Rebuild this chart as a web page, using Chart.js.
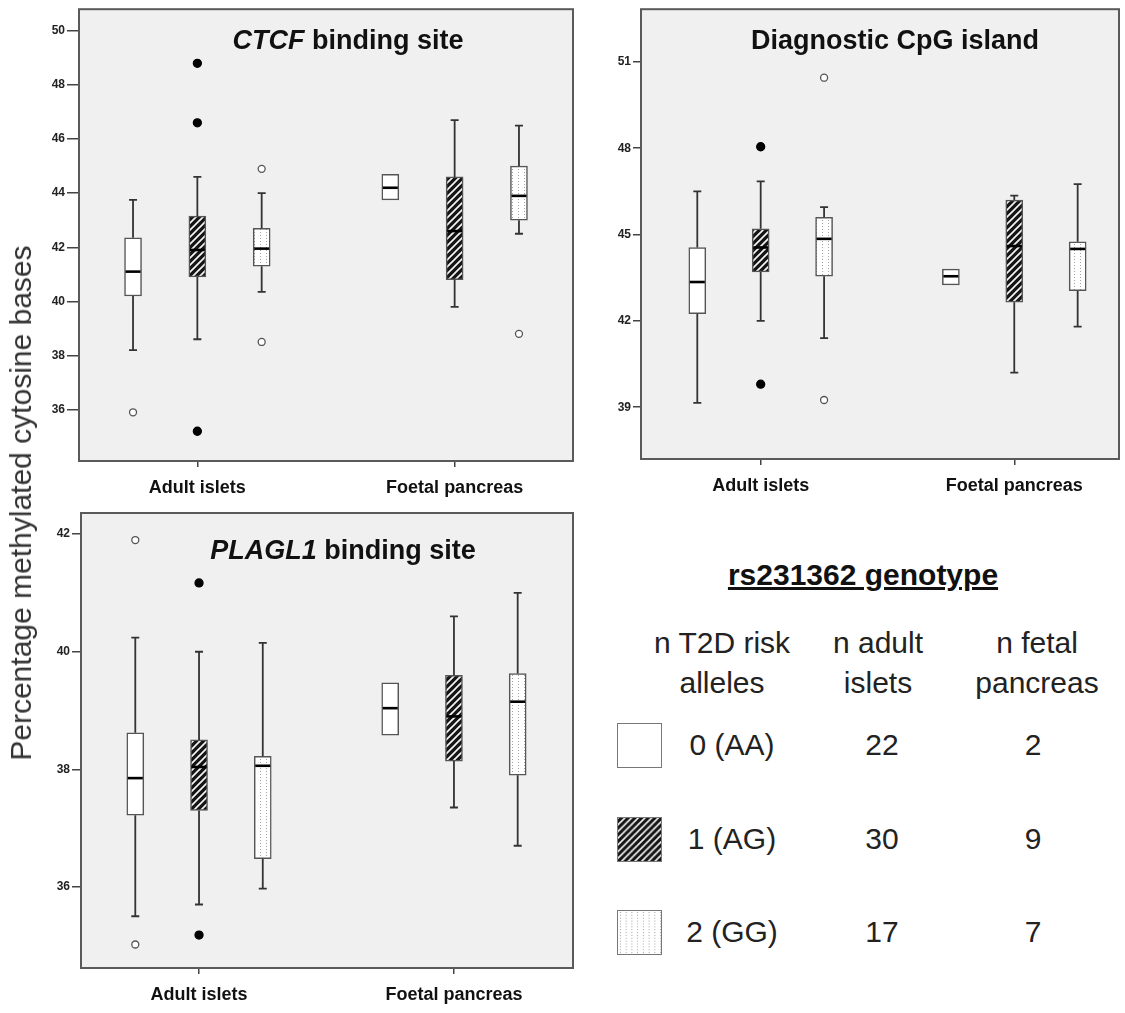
<!DOCTYPE html>
<html>
<head>
<meta charset="utf-8">
<script src="https://cdn.jsdelivr.net/npm/chart.js@4.4.0/dist/chart.umd.min.js"></script>
<style>
  body { margin: 0; background: #fff; font-family: 'Liberation Sans', Arial, sans-serif; }
  #page { position: relative; width: 1125px; height: 1013px; overflow: hidden; }
  .panel { position: absolute; }
  #p1 { left: 0; top: 0; width: 580px; height: 500px; }
  #p2 { left: 580px; top: 0; width: 545px; height: 500px; }
  #p3 { left: 0; top: 500px; width: 580px; height: 513px; }
  #ytitle { position: absolute; left: 21px; top: 503px; transform: translate(-50%, -50%) rotate(-90deg);
            white-space: nowrap; font-size: 30px; color: #333; }
  .lg { position: absolute; transform: translate(-50%, -50%); white-space: nowrap; font-size: 30px; color: #222; line-height: 1; }
  .lgtitle { font-weight: bold; text-decoration: underline; color: #111; }
  .sw { position: absolute; width: 45px; height: 45px; box-sizing: border-box; border: 1.5px solid #777; }
</style>
</head>
<body>
<div id="page">
  <div class="panel" id="p1"><canvas id="c1"></canvas></div>
  <div class="panel" id="p2"><canvas id="c2"></canvas></div>
  <div class="panel" id="p3"><canvas id="c3"></canvas></div>
  <div id="ytitle">Percentage methylated cytosine bases</div>
  <div id="legend"></div>
</div>
<script>
// ---- data ----
const categories = ["Adult islets", "Foetal pancreas"];
const genotypes = ["0 (AA)", "1 (AG)", "2 (GG)"];
const nAdult = [22, 30, 17];
const nFetal = [2, 9, 7];

// order: adult 0,1,2 then foetal 0,1,2
const ctcfLow     = [38.2, 38.6, 40.35, null, 39.8, 42.5];
const ctcfQ1      = [40.2, 40.9, 41.3, 43.75, 40.8, 43.0];
const ctcfMedian  = [41.1, 41.9, 41.95, 44.2, 42.6, 43.9];
const ctcfQ3      = [42.35, 43.15, 42.7, 44.7, 44.6, 45.0];
const ctcfHigh    = [43.75, 44.6, 44.0, null, 46.7, 46.5];
const ctcfOutliers = [[35.9], [48.8, 46.6, 35.2], [44.9, 38.5], [], [], [38.8]];
const ctcfTicks = [36, 38, 40, 42, 44, 46, 48, 50];

const cpgLow     = [39.15, 42.0, 41.4, null, 40.2, 41.8];
const cpgQ1      = [42.25, 43.7, 43.55, 43.25, 42.65, 43.05];
const cpgMedian  = [43.35, 44.55, 44.85, 43.55, 44.6, 44.5];
const cpgQ3      = [44.55, 45.2, 45.6, 43.8, 46.2, 44.75];
const cpgHigh    = [46.5, 46.85, 45.95, null, 46.35, 46.75];
const cpgOutliers = [[], [48.05, 39.8], [50.45, 39.25], [], [], []];
const cpgTicks = [39, 42, 45, 48, 51];

const plaglLow     = [35.5, 35.7, 35.97, null, 37.35, 36.7];
const plaglQ1      = [37.22, 37.3, 36.48, 38.58, 38.14, 37.9];
const plaglMedian  = [37.85, 38.04, 38.06, 39.04, 38.9, 39.15];
const plaglQ3      = [38.62, 38.5, 38.22, 39.47, 39.6, 39.63];
const plaglHigh    = [40.24, 40.0, 40.15, null, 40.6, 41.0];
const plaglOutliers = [[41.9, 35.02], [41.17, 35.18], [], [], [], []];
const plaglTicks = [36, 38, 40, 42];

// ---- styling helpers ----
const offsets = [-0.25, 0, 0.25];
Chart.defaults.font.family = "'Liberation Sans', Arial, sans-serif";

function makePattern(g) {
  if (g === 0) return '#ffffff';
  const c = document.createElement('canvas');
  const x = c.getContext('2d');
  if (g === 1) {
    c.width = c.height = 7;
    x.fillStyle = '#151515';
    x.fillRect(0, 0, 7, 7);
    x.strokeStyle = '#f4f4f4';
    x.lineWidth = 1.7;
    x.beginPath();
    x.moveTo(0, 7); x.lineTo(7, 0);
    x.moveTo(-1, 1); x.lineTo(1, -1);
    x.moveTo(6, 8); x.lineTo(8, 6);
    x.stroke();
  } else {
    c.width = 6; c.height = 3;
    x.fillStyle = '#ffffff';
    x.fillRect(0, 0, 6, 3);
    x.fillStyle = '#a0a0a0';
    x.fillRect(2, 1, 1, 1);
  }
  return x.createPattern(c, 'repeat');
}

const panelPlugin = {
  id: 'panel',
  beforeDraw(chart) {
    const a = chart.chartArea, ctx = chart.ctx;
    ctx.save();
    ctx.fillStyle = '#f0f0f0';
    ctx.fillRect(a.left, a.top, a.right - a.left, a.bottom - a.top);
    ctx.restore();
  },
  afterDatasetsDraw(chart) {
    const s = chart.config.options.plugins.panel;
    const ctx = chart.ctx, xs = chart.scales.x, ys = chart.scales.y;
    ctx.save();
    for (let i = 0; i < 6; i++) {
      const c = Math.floor(i / 3), g = i % 3;
      const px = xs.getPixelForValue(c + offsets[g]);
      const half = 8.5;
      ctx.strokeStyle = '#333';
      ctx.lineWidth = 1.8;
      ctx.beginPath();
      if (s.high[i] != null) {
        ctx.moveTo(px, ys.getPixelForValue(s.q3[i])); ctx.lineTo(px, ys.getPixelForValue(s.high[i]));
        ctx.moveTo(px - 4, ys.getPixelForValue(s.high[i])); ctx.lineTo(px + 4, ys.getPixelForValue(s.high[i]));
      }
      if (s.low[i] != null) {
        ctx.moveTo(px, ys.getPixelForValue(s.q1[i])); ctx.lineTo(px, ys.getPixelForValue(s.low[i]));
        ctx.moveTo(px - 4, ys.getPixelForValue(s.low[i])); ctx.lineTo(px + 4, ys.getPixelForValue(s.low[i]));
      }
      ctx.stroke();
      ctx.strokeStyle = '#000';
      ctx.lineWidth = 2.6;
      ctx.beginPath();
      const my = ys.getPixelForValue(s.median[i]);
      ctx.moveTo(px - half + 1, my); ctx.lineTo(px + half - 1, my);
      ctx.stroke();
    }
    ctx.restore();
  },
  afterDraw(chart) {
    const s = chart.config.options.plugins.panel;
    const a = chart.chartArea, ctx = chart.ctx;
    ctx.save();
    ctx.strokeStyle = '#5a5a5a';
    ctx.lineWidth = 2;
    ctx.strokeRect(a.left, a.top, a.right - a.left, a.bottom - a.top);
    // title: italic part + plain part
    ctx.fillStyle = '#111';
    ctx.textBaseline = 'middle';
    const f1 = 'italic bold 27px "Liberation Sans", Arial, sans-serif';
    const f2 = 'bold 27px "Liberation Sans", Arial, sans-serif';
    ctx.font = f1; const w1 = ctx.measureText(s.titleItalic).width;
    ctx.font = f2; const w2 = ctx.measureText(s.titlePlain).width;
    let x0 = s.titleX - (w1 + w2) / 2;
    ctx.textAlign = 'left';
    ctx.font = f1; ctx.fillText(s.titleItalic, x0, s.titleY);
    ctx.font = f2; ctx.fillText(s.titlePlain, x0 + w1, s.titleY);
    ctx.restore();
  }
};

function makePanel(id, d) {
  const datasets = [];
  for (let g = 0; g < 3; g++) {
    datasets.push({
      type: 'bar',
      data: [0, 1].map(c => ({ x: c + offsets[g], y: [d.q1[c * 3 + g], d.q3[c * 3 + g]] })),
      backgroundColor: makePattern(g),
      borderColor: '#555',
      borderWidth: 1.5,
      borderSkipped: false,
      barThickness: 17,
      grouped: false
    });
  }
  for (let g = 0; g < 3; g++) {
    const pts = [];
    [0, 1].forEach(c => d.outliers[c * 3 + g].forEach(v => pts.push({ x: c + offsets[g], y: v })));
    datasets.push({
      type: 'scatter',
      data: pts,
      pointRadius: g === 1 ? 4 : 3.5,
      pointBackgroundColor: g === 1 ? '#000' : '#fff',
      pointBorderColor: g === 1 ? '#000' : '#555',
      pointBorderWidth: 1.3,
      showLine: false
    });
  }

  new Chart(document.getElementById(id), {
    type: 'bar',
    data: { datasets },
    options: {
      responsive: true,
      maintainAspectRatio: false,
      animation: false,
      layout: { padding: d.padding },
      plugins: {
        legend: { display: false },
        tooltip: { enabled: false },
        panel: d
      },
      scales: {
        x: {
          type: 'linear',
          min: d.xMin, max: d.xMax,
          offset: false,
          afterBuildTicks: s => { s.ticks = [{ value: 0 }, { value: 1 }]; },
          afterFit: s => { s.height = d.xHeight; },
          grid: { offset: false, drawOnChartArea: false, drawTicks: true, tickLength: 6, color: '#444', lineWidth: 1.5 },
          border: { display: false },
          ticks: {
            callback: (v, i) => categories[i],
            font: { size: 18, weight: 'bold' }, color: '#111', padding: 10, maxRotation: 0
          }
        },
        y: {
          min: d.yMin, max: d.yMax,
          afterBuildTicks: s => { s.ticks = d.ticks.map(v => ({ value: v })); },
          afterFit: s => { s.width = d.yWidth; },
          grid: { drawOnChartArea: false, drawTicks: true, tickLength: d.tickLen, color: '#444', lineWidth: 1.5 },
          border: { display: false },
          ticks: { font: { size: 12, weight: 'bold' }, color: '#222', padding: 2 }
        }
      }
    },
    plugins: [panelPlugin]
  });
}

makePanel('c1', {
  low: ctcfLow, q1: ctcfQ1, median: ctcfMedian, q3: ctcfQ3, high: ctcfHigh, outliers: ctcfOutliers, ticks: ctcfTicks,
  yMin: 34.1, yMax: 50.8, xMin: -0.46, xMax: 1.46,
  padding: { top: 7, right: 7, left: 0, bottom: 0 }, xHeight: 39, yWidth: 79, tickLen: 12,
  titleItalic: 'CTCF', titlePlain: ' binding site', titleX: 348, titleY: 42
});
makePanel('c2', {
  low: cpgLow, q1: cpgQ1, median: cpgMedian, q3: cpgQ3, high: cpgHigh, outliers: cpgOutliers, ticks: cpgTicks,
  yMin: 37.2, yMax: 52.83, xMin: -0.472, xMax: 1.413,
  padding: { top: 7, right: 6, left: 0, bottom: 0 }, xHeight: 41, yWidth: 61, tickLen: 8,
  titleItalic: '', titlePlain: 'Diagnostic CpG island', titleX: 315, titleY: 42
});
makePanel('c3', {
  low: plaglLow, q1: plaglQ1, median: plaglMedian, q3: plaglQ3, high: plaglHigh, outliers: plaglOutliers, ticks: plaglTicks,
  yMin: 34.62, yMax: 42.36, xMin: -0.463, xMax: 1.467,
  padding: { top: 13, right: 7, left: 0, bottom: 0 }, xHeight: 45, yWidth: 81, tickLen: 9,
  titleItalic: 'PLAGL1', titlePlain: ' binding site', titleX: 343, titleY: 52
});

// ---- legend table ----
const legend = document.getElementById('legend');
function addText(txt, x, y, cls) {
  const el = document.createElement('div');
  el.className = 'lg' + (cls ? ' ' + cls : '');
  el.textContent = txt;
  el.style.left = x + 'px';
  el.style.top = y + 'px';
  legend.appendChild(el);
}
addText('rs231362 genotype', 863, 575, 'lgtitle');
addText('n T2D risk', 722, 643); addText('alleles', 722, 683);
addText('n adult', 878, 643); addText('islets', 878, 683);
addText('n fetal', 1037, 643); addText('pancreas', 1037, 683);
const rowY = [745, 839, 932];
genotypes.forEach((name, g) => {
  const sw = document.createElement('canvas');
  sw.width = 45; sw.height = 45;
  sw.className = 'sw';
  sw.style.left = '617px';
  sw.style.top = (rowY[g] - 22) + 'px';
  const sx = sw.getContext('2d');
  sx.fillStyle = makePattern(g);
  sx.fillRect(0, 0, 45, 45);
  legend.appendChild(sw);
  addText(name, 732, rowY[g]);
  addText(String(nAdult[g]), 882, rowY[g]);
  addText(String(nFetal[g]), 1033, rowY[g]);
});
</script>
</body>
</html>
